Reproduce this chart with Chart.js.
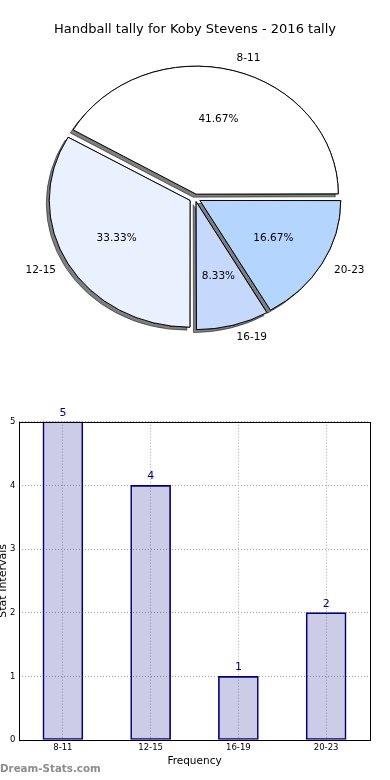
<!DOCTYPE html>
<html>
<head>
<meta charset="utf-8">
<script src="https://cdn.jsdelivr.net/npm/chart.js@4.4.1/dist/chart.umd.min.js"></script>
<style>
  html, body { margin: 0; padding: 0; background: #fff; }
  body { width: 390px; height: 780px; position: relative; overflow: hidden; font-family: "DejaVu Sans", sans-serif; }
  #pie { position: absolute; left: 0; top: 0; }
  #bar { position: absolute; left: 0; top: 400px; }
  #mark { position: absolute; left: 0; top: 762px; font: bold 10.3px "DejaVu Sans", sans-serif; color: #8c8c8c; white-space: nowrap; }
</style>
</head>
<body>
<canvas id="pie" width="390" height="360"></canvas>
<canvas id="bar" width="390" height="380"></canvas>
<div id="mark">Dream-Stats.com</div>
<script>
const categories = ["8-11", "12-15", "16-19", "20-23"];
const tallies = [5, 4, 1, 2];
const yTicks = [0, 1, 2, 3, 4, 5];
const sliceColors = ["#ffffff", "#eaf1fe", "#c6d9fd", "#b4d5fe"];
const chartTitle = "Handball tally for Koby Stevens - 2016 tally";
const xTitle = "Frequency";
const yTitle = "Stat Intervals";

const FONT = "'DejaVu Sans', sans-serif";
const PIE_SY = 0.9;      // pie is drawn squashed vertically
const EXPLODE = 6.5;     // px each wedge is pulled out

// matplotlib goes counter-clockwise from east, chart.js clockwise -> reverse
const pieLabels = categories.slice().reverse();
const pieValues = tallies.slice().reverse();
const pieColors = sliceColors.slice().reverse();
const total = tallies.reduce((a, b) => a + b, 0);

// chart.js moves an arc by offset/4 * (1 + fix); solve for an even explode
function arcOffset(ctx) {
  const circ = 2 * Math.PI * pieValues[ctx.dataIndex] / total;
  const fix = 1 - Math.sin(Math.min(Math.PI, circ));
  return EXPLODE * 4 / (1 + fix);
}

function arcShift(arc) {
  const fix = 1 - Math.sin(Math.min(Math.PI, arc.circumference || 0));
  return (arc.options.offset || 0) / 4 * (1 + fix);
}

const pieDecor = {
  id: "pieDecor",
  beforeDatasetsDraw(chart) {
    const ctx = chart.ctx;
    const arcs = chart.getDatasetMeta(0).data;
    const cy = arcs[0].y;
    ctx.save();
    ctx.translate(0, cy);
    ctx.scale(1, PIE_SY);
    ctx.translate(0, -cy);
    // shadows first, under every wedge
    ctx.save();
    ctx.shadowColor = "rgba(0,0,0,0.5)";
    ctx.shadowOffsetX = -3;
    ctx.shadowOffsetY = 3;
    ctx.shadowBlur = 0;
    arcs.forEach((a) => a.draw(ctx));
    ctx.restore();
  },
  afterDatasetsDraw(chart) {
    const ctx = chart.ctx;
    ctx.restore();
    const arcs = chart.getDatasetMeta(0).data;
    ctx.save();
    ctx.fillStyle = "#000";
    ctx.font = "10.5px " + FONT;
    ctx.textBaseline = "middle";
    arcs.forEach((a, i) => {
      const mid = (a.startAngle + a.endAngle) / 2;
      const t = arcShift(a);
      const r = a.outerRadius;
      const c = Math.cos(mid), s = Math.sin(mid);
      const pct = (pieValues[i] / total * 100).toFixed(2) + "%";
      ctx.textAlign = "center";
      ctx.fillText(pct, a.x + c * (t + 0.6 * r), a.y + s * (t + 0.6 * r) * PIE_SY);
      ctx.textAlign = c > 0 ? "left" : "right";
      ctx.fillText(pieLabels[i], a.x + c * (t + 1.1 * r), a.y + s * (t + 1.1 * r) * PIE_SY);
    });
    ctx.restore();
  }
};

new Chart(document.getElementById("pie"), {
  type: "pie",
  data: {
    labels: pieLabels,
    datasets: [{
      data: pieValues,
      backgroundColor: pieColors,
      borderColor: "#000",
      borderWidth: 1,
      offset: arcOffset,
      hoverOffset: 0
    }]
  },
  options: {
    responsive: false,
    animation: false,
    rotation: 90,
    radius: 140,
    events: [],
    layout: { padding: { top: 0, bottom: 2 } },
    plugins: {
      legend: { display: false },
      tooltip: { enabled: false },
      title: {
        display: true,
        text: chartTitle,
        color: "#000",
        font: { family: FONT, size: 13, weight: "normal" },
        padding: { top: 22.2, bottom: 0 }
      }
    }
  },
  plugins: [pieDecor]
});

const barDecor = {
  id: "barDecor",
  afterDatasetsDraw(chart) {
    const ctx = chart.ctx;
    ctx.save();
    ctx.fillStyle = "#000080";
    ctx.font = "11px " + FONT;
    ctx.textAlign = "center";
    ctx.textBaseline = "middle";
    chart.getDatasetMeta(0).data.forEach((b, i) => {
      ctx.fillText(String(tallies[i]), b.x, b.y - 9);
    });
    ctx.restore();
  },
  afterDraw(chart) {
    const { left, top, width, height } = chart.chartArea;
    const ctx = chart.ctx;
    ctx.save();
    ctx.strokeStyle = "#000";
    ctx.lineWidth = 1;
    ctx.strokeRect(Math.round(left) + 0.5, Math.round(top) + 0.5, Math.round(width), Math.round(height));
    ctx.restore();
  }
};

new Chart(document.getElementById("bar"), {
  type: "bar",
  data: {
    labels: categories,
    datasets: [{
      data: tallies,
      backgroundColor: "rgba(0,0,128,0.2)",
      borderColor: "#000080",
      borderWidth: 1,
      borderSkipped: false,
      barThickness: 40
    }]
  },
  options: {
    responsive: false,
    animation: false,
    events: [],
    layout: { padding: { top: 21.7, right: 20, left: 0, bottom: 0 } },
    plugins: { legend: { display: false }, tooltip: { enabled: false } },
    scales: {
      x: {
        offset: true,
        grid: { offset: false, color: "#a8a8a8", drawTicks: false },
        border: { display: false, dash: [1, 2] },
        ticks: { color: "#000", font: { family: FONT, size: 8.5 }, padding: 3, maxRotation: 0 },
        title: { display: true, text: xTitle, color: "#000", font: { family: FONT, size: 10.5 }, padding: { top: 0, bottom: 12 } },
        afterFit(s) { s.height = 40; }
      },
      y: {
        min: 0,
        max: 5,
        grid: { color: "#a8a8a8", drawTicks: false },
        border: { display: false, dash: [1, 2] },
        ticks: { color: "#000", font: { family: FONT, size: 8.5 }, padding: 3.5 },
        afterBuildTicks(s) { s.ticks = yTicks.map((v) => ({ value: v })); },
        title: { display: true, text: yTitle, color: "#000", font: { family: FONT, size: 11 }, padding: { top: -3, bottom: 0 } },
        afterFit(s) { s.width = 19; }
      }
    }
  },
  plugins: [barDecor]
});
</script>
</body>
</html>
